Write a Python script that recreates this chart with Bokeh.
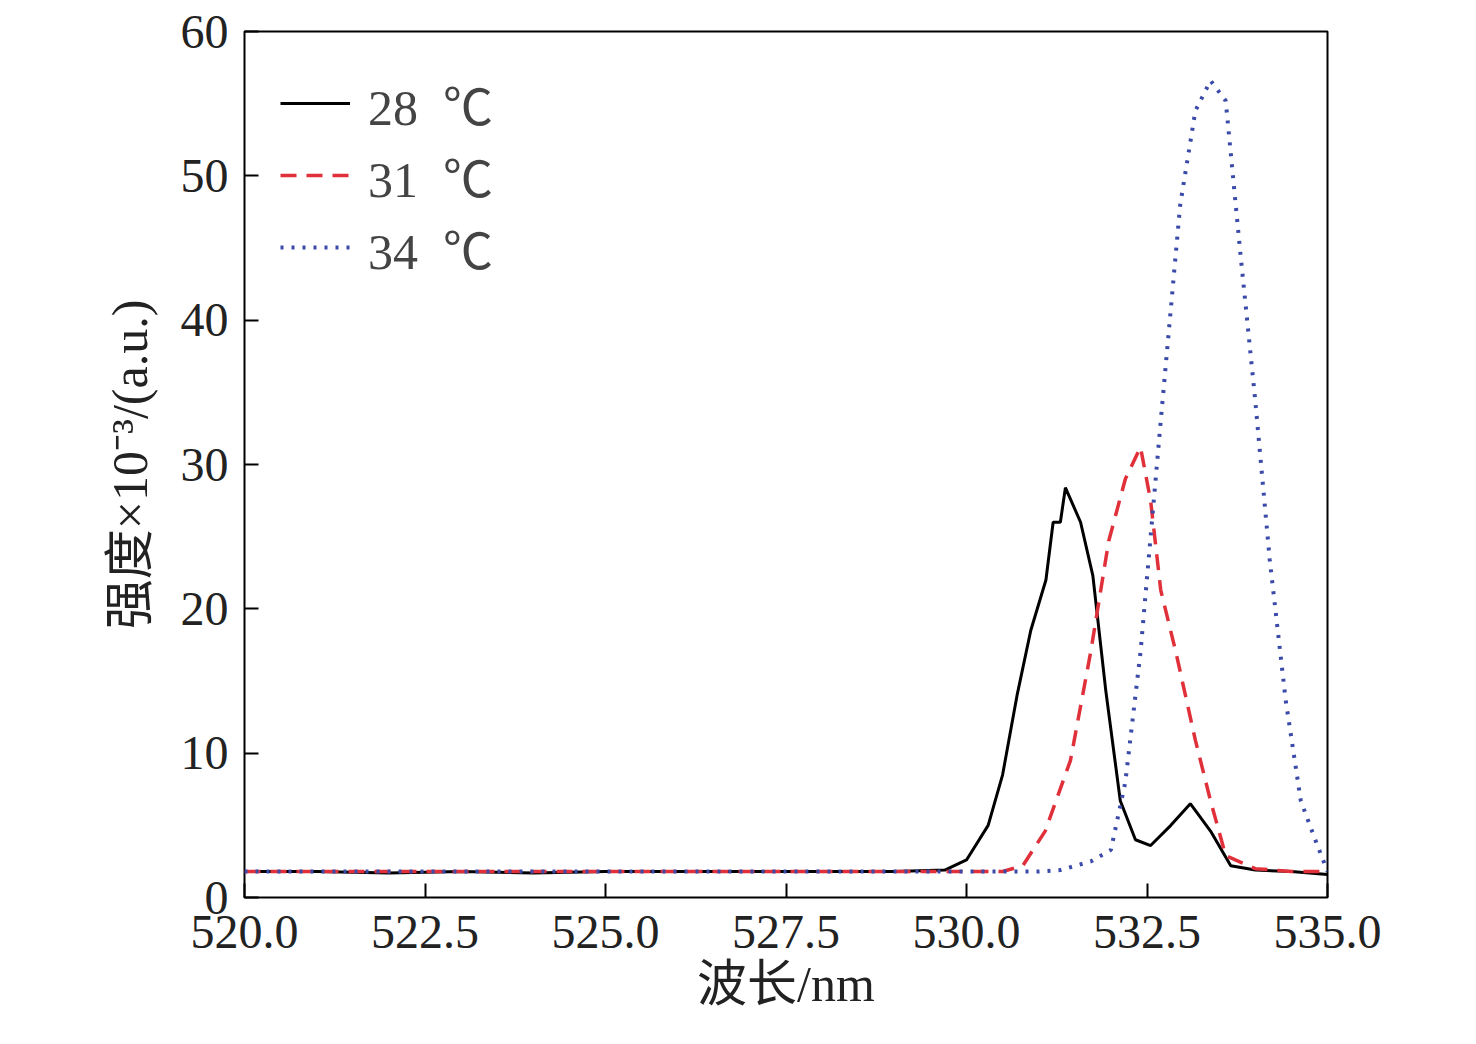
from bokeh.plotting import figure
from bokeh.models import Legend, LegendItem, FixedTicker
from bokeh.embed import file_html
from bokeh.resources import INLINE

x28 = [520.0, 521.0, 522.0, 523.0, 524.0, 525.0, 526.0, 527.0, 528.0, 529.0, 529.7, 530.0, 530.3, 530.5, 530.7, 530.89, 531.1, 531.2, 531.3, 531.37, 531.58, 531.75, 531.93, 532.13, 532.34, 532.55, 532.83, 533.1, 533.38, 533.66, 534.0, 534.5, 535.0]
y28 = [1.8, 1.8, 1.7, 1.8, 1.7, 1.8, 1.8, 1.8, 1.8, 1.8, 1.9, 2.6, 5.0, 8.5, 14.0, 18.5, 22.0, 26.0, 26.0, 28.4, 26.0, 22.3, 14.3, 6.7, 4.0, 3.6, 5.0, 6.5, 4.6, 2.2, 1.9, 1.8, 1.6]
x31 = [520.0, 521.0, 522.0, 523.0, 524.0, 525.0, 526.0, 527.0, 528.0, 529.0, 530.0, 530.5, 530.78, 531.09, 531.44, 531.72, 531.97, 532.2, 532.41, 532.55, 532.69, 532.9, 533.17, 533.38, 533.59, 534.0, 534.5, 535.0]
y31 = [1.8, 1.8, 1.8, 1.8, 1.8, 1.8, 1.8, 1.8, 1.8, 1.8, 1.8, 1.8, 2.2, 4.6, 9.5, 17.0, 24.7, 29.0, 31.2, 27.5, 21.3, 17.0, 10.9, 6.7, 2.9, 2.0, 1.8, 1.8]
x34 = [520.0, 521.0, 522.0, 523.0, 524.0, 525.0, 526.0, 527.0, 528.0, 529.0, 530.0, 531.0, 531.3, 531.72, 532.0, 532.2, 532.41, 532.69, 532.96, 533.17, 533.38, 533.59, 533.79, 534.0, 534.2, 534.42, 534.63, 534.83, 535.0]
y34 = [1.8, 1.8, 1.8, 1.8, 1.8, 1.8, 1.8, 1.8, 1.8, 1.8, 1.8, 1.8, 1.9, 2.5, 3.3, 8.0, 17.0, 33.0, 48.0, 54.5, 56.6, 55.2, 44.8, 34.4, 23.4, 13.7, 6.7, 4.0, 1.8]
labels = ["28  ℃", "31  ℃", "34  ℃"]
xticks = [520.0, 522.5, 525.0, 527.5, 530.0, 532.5, 535.0]
yticks = [0, 10, 20, 30, 40, 50, 60]

serif = "Liberation Serif, Noto Sans CJK SC"
p = figure(width=1440, height=1030, x_range=(520, 535), y_range=(0, 60),
           output_backend="svg", toolbar_location=None,
           min_border_left=244, min_border_right=113, min_border_top=31, min_border_bottom=133)
p.grid.visible = False
p.outline_line_color = "black"
p.outline_line_width = 2

r1 = p.line(x28, y28, line_color="black", line_width=3)
r2 = p.line(x31, y31, line_color="#e0303a", line_width=3.5, line_dash="16 10")
r3 = p.line(x34, y34, line_color="#3a4aa8", line_width=4, line_dash="3 8")

p.xaxis.ticker = FixedTicker(ticks=xticks)
p.xaxis.major_label_overrides = {t: f"{t:.1f}" for t in xticks}
p.yaxis.ticker = FixedTicker(ticks=yticks)
for ax in (p.xaxis, p.yaxis):
    ax.major_tick_in = 14
    ax.major_tick_out = 0
    ax.minor_tick_in = 0
    ax.minor_tick_out = 0
    ax.axis_line_color = None
    ax.major_tick_line_width = 2
    ax.major_label_text_font = serif
    ax.major_label_text_font_size = "48px"
    ax.major_label_text_color = "#222222"
    ax.axis_label_text_font = serif
    ax.axis_label_text_font_size = "50px"
    ax.axis_label_text_font_style = "normal"
    ax.axis_label_text_color = "#222222"
p.xaxis.axis_label = "波长/nm"
p.yaxis.axis_label = "强度×10⁻³/(a.u.)"
p.xaxis.major_label_standoff = 18
p.yaxis.major_label_standoff = 16
p.yaxis.axis_label_standoff = 20

legend = Legend(items=[LegendItem(label=labels[0], renderers=[r1]),
                       LegendItem(label=labels[1], renderers=[r2]),
                       LegendItem(label=labels[2], renderers=[r3])],
                location="top_left", border_line_color=None, background_fill_alpha=0,
                label_text_font=serif, label_text_font_size="50px",
                glyph_width=70, spacing=0, margin=36, padding=10, label_standoff=18)
p.add_layout(legend)

open("out.html", "w").write(file_html(p, INLINE))
